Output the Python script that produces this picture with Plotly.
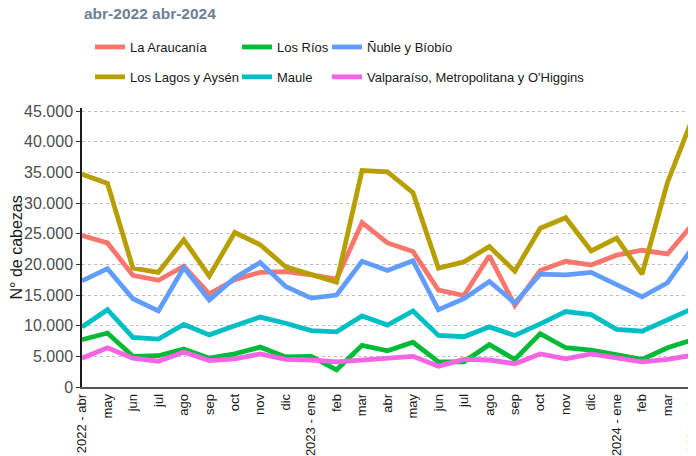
import plotly.graph_objects as go

months = ["2022 - abr", "may", "jun", "jul", "ago", "sep", "oct", "nov", "dic",
          "2023 - ene", "feb", "mar", "abr", "may", "jun", "jul", "ago", "sep",
          "oct", "nov", "dic", "2024 - ene", "feb", "mar", "2024 - abr"]

la_araucania = [24700, 23500, 18200, 17400, 19700, 15200, 17500, 18700, 18800,
                18300, 17600, 26800, 23500, 22100, 15800, 14900, 21400, 13300,
                19000, 20500, 19900, 21500, 22300, 21700, 26600]
los_lagos = [34700, 33200, 19400, 18700, 24000, 18100, 25200, 23200, 19600,
             18300, 17100, 35300, 35100, 31700, 19400, 20400, 22900, 18900,
             25900, 27600, 22200, 24300, 18400, 33400, 44000]
los_rios = [7700, 8800, 5000, 5100, 6200, 4700, 5400, 6500, 4900,
            5000, 2800, 6800, 5900, 7300, 4100, 4100, 6900, 4500,
            8700, 6400, 6000, 5300, 4500, 6400, 7700]
maule = [9800, 12600, 8100, 7800, 10200, 8500, 10000, 11400, 10400,
         9200, 9000, 11600, 10100, 12400, 8400, 8200, 9800, 8400,
         10300, 12300, 11800, 9400, 9100, 10900, 12800]
nuble = [17300, 19300, 14400, 12400, 19500, 14200, 17800, 20300, 16400,
         14500, 15000, 20500, 19000, 20600, 12600, 14400, 17200, 13700,
         18400, 18300, 18700, 16700, 14700, 17000, 22800]
valparaiso = [4700, 6400, 4700, 4200, 5700, 4300, 4600, 5400, 4500,
              4400, 4100, 4400, 4600, 5000, 3400, 4500, 4400, 3800,
              5400, 4600, 5400, 4800, 4100, 4500, 5200]

series = [
    ("La Araucanía", la_araucania, "#F8766D", "legend"),
    ("Los Lagos y Aysén", los_lagos, "#B79F00", "legend"),
    ("Los Ríos", los_rios, "#00BA38", "legend2"),
    ("Maule", maule, "#00BFC4", "legend2"),
    ("Ñuble y Bíobío", nuble, "#619CFF", "legend3"),
    ("Valparaíso, Metropolitana y O'Higgins", valparaiso, "#F564E3", "legend3"),
]

xs = list(range(len(months)))
FONT = "Liberation Sans, Arial, sans-serif"
W, H = 696, 456
ML, MR, MT, MB = 74, 11, 100, 77
PW = W - ML - MR
PH = H - MT - MB

fig = go.Figure()
for name, vals, color, lg in series:
    fig.add_trace(go.Scatter(
        x=xs, y=vals, mode="lines", name=name,
        line=dict(color=color, width=4.8),
        legend=lg, legendgroup=name,
    ))


def leg(xpx, ypx):
    return dict(
        xref="container", yref="container",
        x=xpx / W, y=1 - ypx / H, xanchor="left", yanchor="top",
        orientation="v", tracegroupgap=10,
        font=dict(family=FONT, size=13, color="#1a1a1a"),
        bgcolor="rgba(0,0,0,0)", borderwidth=0,
    )


fig.update_layout(
    width=W, height=H,
    margin=dict(l=ML, r=MR, t=MT, b=MB, autoexpand=False),
    plot_bgcolor="white", paper_bgcolor="white",
    separators=",.",
    font=dict(family=FONT),
    showlegend=True,
    legend=leg(82, 24),
    legend2=leg(229, 24),
    legend3=leg(319, 24),
    xaxis=dict(
        range=[0, 24], tickmode="array", tickvals=xs, ticktext=months,
        tickangle=-90, showgrid=False, zeroline=False,
        showline=True, linecolor="#555555", linewidth=1.5,
        ticks="", tickfont=dict(family=FONT, size=13, color="#1a1a1a"),
        automargin=False,
    ),
    yaxis=dict(
        range=[0, 45500], tickmode="array",
        tickvals=[0, 5000, 10000, 15000, 20000, 25000, 30000, 35000, 40000, 45000],
        tickformat=",d",
        showgrid=True, gridcolor="#BEBEBE", griddash="dot", gridwidth=1,
        zeroline=False, showline=True, linecolor="#1a1a1a", linewidth=1.5,
        ticks="outside", ticklen=4, tickcolor="#333333", tickwidth=1,
        tickfont=dict(family=FONT, size=16, color="#4D4D4D"),
        automargin=False,
    ),
    annotations=[
        dict(
            text="<b>abr-2022 abr-2024</b>", xref="paper", yref="paper",
            x=0, y=(H - MB - 5) / PH, xanchor="left", yanchor="middle", showarrow=False,
            font=dict(family=FONT, size=15.5, color="#6E7F93"),
        ),
        dict(
            text="N° de cabezas", xref="paper", yref="paper",
            x=(8 - ML) / PW, y=0.5, xanchor="center", yanchor="middle",
            textangle=-90, showarrow=False,
            font=dict(family=FONT, size=16, color="#1a1a1a"),
        ),
    ],
)

fig.write_html("out.html")
